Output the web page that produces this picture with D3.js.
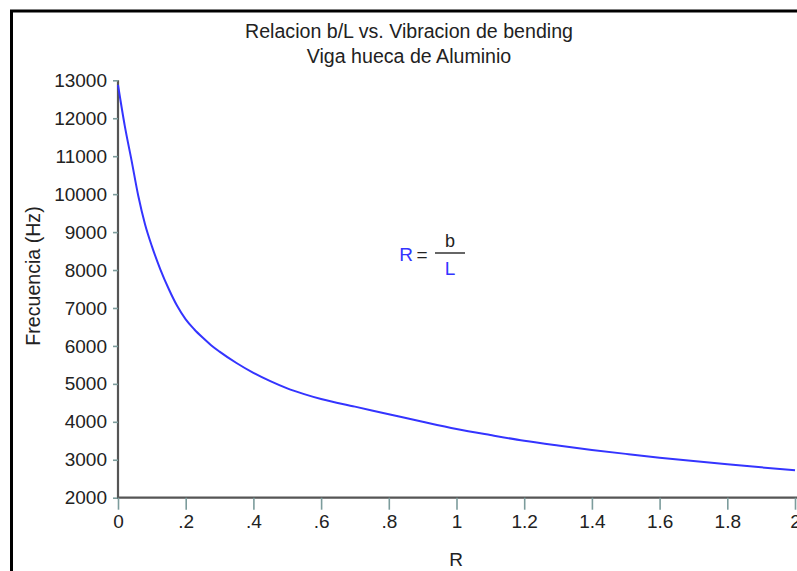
<!DOCTYPE html>
<html>
<head>
<meta charset="utf-8">
<script src="https://cdn.jsdelivr.net/npm/d3@7"></script>
<style>
  html, body { margin: 0; padding: 0; background: #fff; }
  svg { display: block; }
  text { font-family: "Liberation Sans", Arial, sans-serif; fill: #222; }
</style>
</head>
<body>
<svg id="chart" width="797" height="571"></svg>
<script>
// Relación b/L (R) y frecuencia de vibración de flexión, viga hueca de aluminio
const ratioR = [0, 0.02, 0.04, 0.06, 0.08, 0.1, 0.125, 0.15, 0.175, 0.2, 0.225, 0.25, 0.275, 0.3, 0.35, 0.4, 0.45,
                0.5, 0.55, 0.6, 0.7, 0.8, 0.9, 1.0, 1.1, 1.2, 1.3, 1.4, 1.5, 1.6, 1.7, 1.8, 1.9, 2.0];
const frecuenciaHz = [12880, 11800, 10890, 9950, 9200, 8630, 8020, 7500, 7050, 6700, 6440, 6220, 6020, 5850, 5550, 5290, 5070,
                      4880, 4730, 4600, 4400, 4200, 4000, 3810, 3650, 3500, 3375, 3260, 3155, 3055, 2965, 2880, 2800, 2725];
const xTicks = [0, 0.2, 0.4, 0.6, 0.8, 1, 1.2, 1.4, 1.6, 1.8, 2];
const xTickLabels = ["0", ".2", ".4", ".6", ".8", "1", "1.2", "1.4", "1.6", "1.8", "2"];
const yTicks = [2000, 3000, 4000, 5000, 6000, 7000, 8000, 9000, 10000, 11000, 12000, 13000];
const titleLines = ["Relacion b/L vs. Vibracion de bending", "Viga hueca de Aluminio"];

const svg = d3.select("#chart");

// outer frame (runs past the right and bottom edges)
svg.append("rect")
  .attr("x", 11.5).attr("y", 11).attr("width", 800).attr("height", 580)
  .attr("fill", "#fff").attr("stroke", "#000").attr("stroke-width", 3);

const x = d3.scaleLinear().domain([0, 2]).range([118, 795]);
const y = d3.scaleLinear().domain([2000, 13000]).range([497.7, 80.3]);

const tickColor = "#7c9c9c";
const axisColor = "#555";

// y axis
const gy = svg.append("g").attr("transform", `translate(${x(0)},0)`)
  .call(d3.axisLeft(y).tickValues(yTicks).tickSize(5).tickPadding(6).tickFormat(d3.format("d")));
gy.select(".domain").attr("stroke", axisColor).attr("stroke-width", 2.2).attr("d", `M0,${y(13000)}V${y(2000)}`);
gy.selectAll(".tick line").attr("stroke", tickColor).attr("stroke-width", 1.6);
gy.selectAll(".tick text").attr("font-size", 19).attr("fill", "#222")
  .style("font-family", '"Liberation Sans", Arial, sans-serif');

// x axis
const gx = svg.append("g").attr("transform", `translate(0,${y(2000)})`)
  .call(d3.axisBottom(x).tickValues(xTicks).tickSize(12).tickPadding(5)
    .tickFormat((d, i) => xTickLabels[i]));
gx.select(".domain").attr("stroke", axisColor).attr("stroke-width", 2.2).attr("d", `M${x(0) - 1},0H797`);
gx.selectAll(".tick line").attr("stroke", tickColor).attr("stroke-width", 1.6);
gx.selectAll(".tick text").attr("font-size", 19).attr("fill", "#222")
  .style("font-family", '"Liberation Sans", Arial, sans-serif');

// curve
const line = d3.line()
  .x((d, i) => x(ratioR[i]))
  .y(d => y(d))
  .curve(d3.curveMonotoneX);
svg.append("path")
  .datum(frecuenciaHz)
  .attr("d", line)
  .attr("fill", "none")
  .attr("stroke", "#3434ff")
  .attr("stroke-width", 2);

// title
svg.selectAll(".title").data(titleLines).join("text")
  .attr("class", "title")
  .attr("x", 409).attr("y", (d, i) => 38 + i * 25)
  .attr("text-anchor", "middle").attr("font-size", 19.6)
  .text(d => d);

// axis labels
svg.append("text")
  .attr("x", 456).attr("y", 566)
  .attr("text-anchor", "middle").attr("font-size", 19)
  .text("R");
svg.append("text")
  .attr("transform", "translate(40,276) rotate(-90)")
  .attr("text-anchor", "middle").attr("font-size", 19.6)
  .text("Frecuencia (Hz)");

// R = b / L annotation
const ann = svg.append("g");
ann.append("text").attr("x", 406).attr("y", 261).attr("text-anchor", "middle")
  .attr("font-size", 19).style("fill", "#3434ff").text("R");
ann.append("text").attr("x", 422).attr("y", 261).attr("text-anchor", "middle")
  .attr("font-size", 19).text("=");
ann.append("line").attr("x1", 435).attr("x2", 465).attr("y1", 253).attr("y2", 253)
  .attr("stroke", "#333").attr("stroke-width", 1.5);
ann.append("text").attr("x", 450).attr("y", 247).attr("text-anchor", "middle")
  .attr("font-size", 18).text("b");
ann.append("text").attr("x", 450).attr("y", 275).attr("text-anchor", "middle")
  .attr("font-size", 19).style("fill", "#3434ff").text("L");
</script>
</body>
</html>
